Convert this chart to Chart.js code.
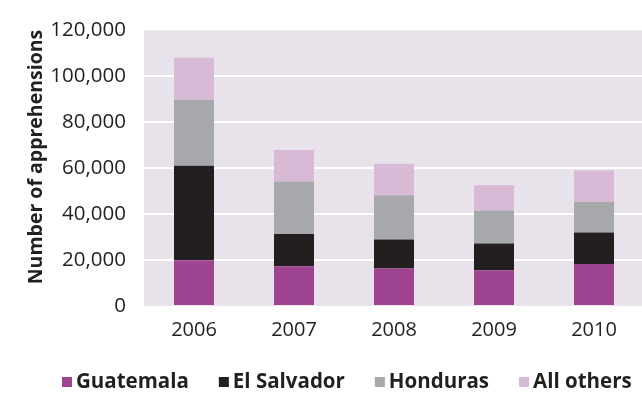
<!DOCTYPE html>
<html>
<head>
<meta charset="utf-8">
<script src="https://cdn.jsdelivr.net/npm/chart.js@4/dist/chart.umd.min.js"></script>
<style>
  html, body { margin: 0; padding: 0; overflow: hidden; background: #ffffff; }
  #wrap { width: 644px; height: 394px; position: relative; }
</style>
</head>
<body>
<div id="wrap"><canvas id="chart"></canvas></div>
<script>
// Apprehensions by country of origin, per year
const years = ['2006', '2007', '2008', '2009', '2010'];
const guatemala = [19900, 17300, 16300, 15600, 18300];
const elSalvador = [41100, 14000, 12600, 11600, 13700];
const honduras = [28800, 22900, 19300, 14400, 13400];
const allOthers = [18200, 13700, 13700, 11000, 13600];
const yTicks = [0, 20000, 40000, 60000, 80000, 100000, 120000];
const yTitle = 'Number of apprehensions';

const INK = '#231f20';
const FONT = '"Open Sans", "Noto Sans", sans-serif';

// Shaded plotting area behind the bars
const plotBackground = {
  id: 'plotBackground',
  beforeDraw(chart) {
    const { ctx, chartArea: a } = chart;
    ctx.save();
    ctx.fillStyle = '#e8e3ea';
    ctx.fillRect(a.left, a.top, a.right - a.left, a.bottom - a.top);
    ctx.restore();
  }
};

// Rotated y-axis title, set a little above the axis midpoint
const axisTitle = {
  id: 'axisTitle',
  afterDraw(chart) {
    const ctx = chart.ctx;
    ctx.save();
    ctx.translate(36, 157);
    ctx.rotate(-Math.PI / 2);
    ctx.font = 'bold 19.5px ' + FONT;
    ctx.fillStyle = INK;
    ctx.textAlign = 'center';
    ctx.textBaseline = 'middle';
    ctx.fillText(yTitle, 0, 0);
    ctx.restore();
  }
};

// Single-row legend with small square keys under the axis
const legendRow = {
  id: 'legendRow',
  afterDraw(chart) {
    const ctx = chart.ctx;
    ctx.save();
    ctx.font = 'bold 20.5px ' + FONT;
    ctx.textBaseline = 'middle';
    ctx.textAlign = 'left';
    let x = 62;
    const y = 382;
    chart.data.datasets.forEach(ds => {
      ctx.fillStyle = ds.backgroundColor;
      ctx.fillRect(x, y - 5, 10, 10);
      x += 14;
      ctx.fillStyle = INK;
      ctx.fillText(ds.label, x, y);
      x += ctx.measureText(ds.label).width + 30;
    });
    ctx.restore();
  }
};

const mk = (label, data, color) => ({
  label, data,
  backgroundColor: color,
  borderWidth: 0,
  barPercentage: 0.4,
  categoryPercentage: 1.0
});

new Chart(document.getElementById('chart'), {
  type: 'bar',
  data: {
    labels: years,
    datasets: [
      mk('Guatemala', guatemala, '#9e4490'),
      mk('El Salvador', elSalvador, '#231f20'),
      mk('Honduras', honduras, '#a7a8ab'),
      mk('All others', allOthers, '#d8b9d6')
    ]
  },
  options: {
    responsive: true,
    maintainAspectRatio: false,
    animation: false,
    events: [],
    layout: { padding: { top: 21, left: 0, right: 0, bottom: 0 } },
    plugins: {
      legend: { display: false },
      tooltip: { enabled: false }
    },
    scales: {
      x: {
        stacked: true,
        grid: { display: false, drawTicks: false },
        border: { display: false },
        ticks: { color: INK, font: { family: FONT, size: 20 }, padding: 12 },
        afterFit(scale) { scale.height = 88; }
      },
      y: {
        stacked: true,
        min: 0,
        max: 120000,
        afterBuildTicks(scale) { scale.ticks = yTicks.map(v => ({ value: v })); },
        grid: {
          drawTicks: false,
          lineWidth: 2,
          color: ctx => (ctx.tick && ctx.tick.value > 0 && ctx.tick.value < 120000) ? '#ffffff' : 'rgba(0,0,0,0)'
        },
        border: { display: false },
        ticks: {
          color: INK,
          font: { family: FONT, size: 20.5 },
          padding: 18,
          callback: v => Number(v).toLocaleString('en-US')
        },
        afterFit(scale) { scale.width = 144; }
      }
    }
  },
  plugins: [plotBackground, axisTitle, legendRow]
});
</script>
</body>
</html>
